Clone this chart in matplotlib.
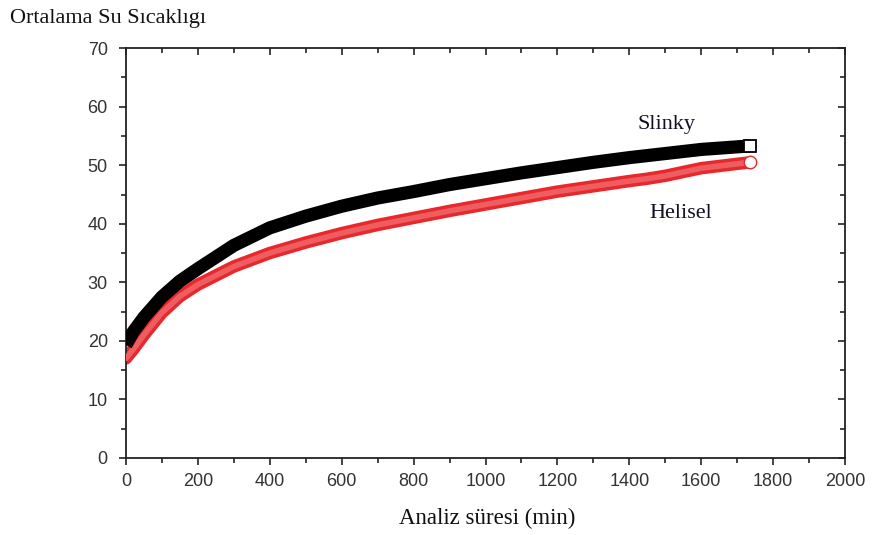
import matplotlib
matplotlib.use("Agg")
import matplotlib.pyplot as plt
from matplotlib.ticker import MultipleLocator

# data
time_slinky = [0, 20, 50, 100, 150, 200, 300, 400, 500, 600, 700, 800, 900, 1000,
               1100, 1200, 1300, 1400, 1500, 1600, 1735]
temp_slinky = [19.3, 21.5, 24.0, 27.5, 30.2, 32.3, 36.3, 39.3, 41.3, 43.0, 44.4, 45.5,
               46.7, 47.7, 48.7, 49.6, 50.5, 51.3, 52.0, 52.7, 53.3]

time_helisel = [0, 20, 50, 100, 150, 200, 300, 400, 500, 600, 700, 800, 900, 1000,
                1100, 1200, 1300, 1400, 1450, 1500, 1600, 1735]
temp_helisel = [17.0, 18.5, 21.0, 24.8, 27.6, 29.6, 32.7, 35.0, 36.8, 38.4, 39.8, 41.0,
                42.2, 43.3, 44.4, 45.5, 46.4, 47.3, 47.7, 48.2, 49.5, 50.5]

xticks = [0, 200, 400, 600, 800, 1000, 1200, 1400, 1600, 1800, 2000]
yticks = [0, 10, 20, 30, 40, 50, 60, 70]

fig = plt.figure(figsize=(8.74, 5.35), dpi=100)
ax = fig.add_axes([0.144, 0.144, 0.823, 0.766])

# Helisel: red band of open circles
ax.plot(time_helisel, temp_helisel, color="#e8282c", lw=9, solid_capstyle="round", zorder=2)
ax.plot(time_helisel, temp_helisel, color="#ee5e60", lw=4, solid_capstyle="round", zorder=3)
ax.plot(time_helisel[-1:], temp_helisel[-1:], marker="o", ms=9, mfc="white",
        mec="#e8282c", mew=1, ls="none", zorder=4)

# Slinky: black band of squares
ax.plot(time_slinky, temp_slinky, color="black", lw=9.5, solid_capstyle="butt", zorder=5)
ax.plot(time_slinky[-1:], temp_slinky[-1:], marker="s", ms=9, mfc="white",
        mec="black", mew=1.3, ls="none", zorder=6)

ax.set_xlim(0, 2000)
ax.set_ylim(0, 70)
ax.set_xticks(xticks)
ax.set_yticks(yticks)
ax.xaxis.set_minor_locator(MultipleLocator(100))
ax.yaxis.set_minor_locator(MultipleLocator(5))

for sp in ax.spines.values():
    sp.set_linewidth(1.3)
    sp.set_color("#222222")

ax.tick_params(which="both", direction="out", colors="#222222", width=1.2,
               labelsize=13, labelcolor="#333333", top=True, right=True)
ax.tick_params(which="major", length=5, pad=6)
ax.tick_params(which="minor", length=3.5)
ax.tick_params(axis="y", which="major", pad=8)
for lbl in ax.get_xticklabels() + ax.get_yticklabels():
    lbl.set_family("Liberation Sans")
# top/right ticks inward
for t in ax.xaxis.get_major_ticks() + ax.xaxis.get_minor_ticks():
    t.tick2line.set_marker(matplotlib.lines.TICKDOWN)
for t in ax.yaxis.get_major_ticks() + ax.yaxis.get_minor_ticks():
    t.tick2line.set_marker(matplotlib.lines.TICKLEFT)

serif = "Liberation Serif"
fig.text(0.012, 0.966, "Ortalama Su Sıcaklıgı", family=serif, fontsize=16,
         ha="left", va="center", color="#111111")
fig.text(0.557, 0.030, "Analiz süresi (min)", family=serif, fontsize=16.5,
         ha="center", va="center", color="#111111")
ax.text(1502, 57.0, "Slinky", family=serif, fontsize=16, ha="center", va="center",
        color="#111122")
ax.text(1544, 41.8, "Helisel", family=serif, fontsize=16, ha="center", va="center",
        color="#111122")

fig.savefig("out.png", dpi=100)
